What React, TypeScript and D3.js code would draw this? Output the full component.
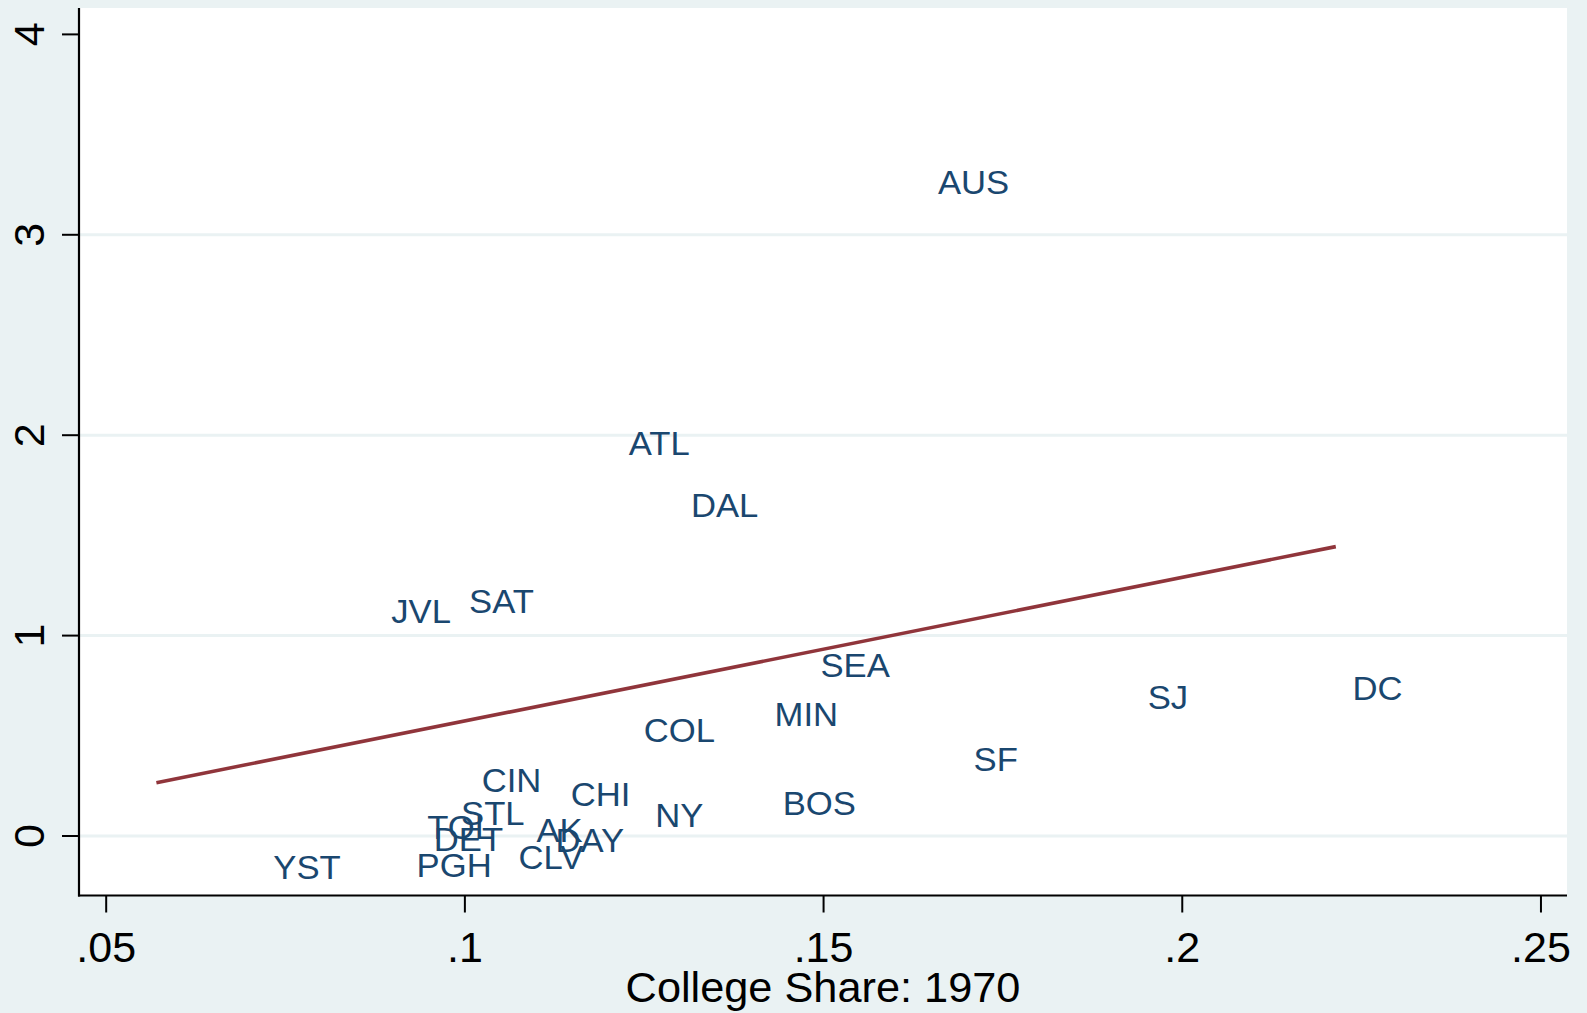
import React from "react";
import * as d3 from "d3";

const cities = ["AUS", "ATL", "DAL", "JVL", "SAT", "SEA", "SJ", "DC", "COL", "MIN", "SF", "NY", "BOS", "YST", "CIN", "CHI", "STL", "TOL", "DET", "AK", "DAY", "CLV", "PGH"];
const collegeShare = [0.1709, 0.1271, 0.1362, 0.0939, 0.1051, 0.1544, 0.1980, 0.2272, 0.1299, 0.1476, 0.1740, 0.1299, 0.1494, 0.0780, 0.1065, 0.1189, 0.1039, 0.0994, 0.1005, 0.1132, 0.1174, 0.1120, 0.0985];
const growth = [3.262, 1.960, 1.652, 1.121, 1.172, 0.853, 0.692, 0.737, 0.530, 0.606, 0.383, 0.106, 0.166, -0.157, 0.279, 0.211, 0.113, 0.046, -0.014, 0.029, -0.020, -0.104, -0.145];

const fitX = [0.0570, 0.2214];
const fitY = [0.266, 1.444];

const xTicks = [0.05, 0.1, 0.15, 0.2, 0.25];
const xTickLabels = [".05", ".1", ".15", ".2", ".25"];
const yTicks = [0, 1, 2, 3, 4];
const yGrid = [0, 1, 2, 3];
const xTitle = "College Share: 1970";

const W = 1587;
const H = 1013;
const plotLeft = 79;
const plotRight = 1567;
const plotTop = 8;
const plotBottom = 895.5;

const BG = "#EAF2F3";
const NAVY = "#1A476F";
const MAROON = "#90353B";
const FONT = "'Liberation Sans', Arial, sans-serif";

export default function App() {
  const x = d3.scaleLinear().domain([0.04621, 0.25363]).range([plotLeft, plotRight]);
  const y = d3.scaleLinear().domain([-0.2969, 4.1317]).range([plotBottom, plotTop]);
  const line = d3.line<[number, number]>().x((d) => x(d[0])).y((d) => y(d[1]));
  const fitPts: [number, number][] = fitX.map((v, i) => [v, fitY[i]]);
  const labelFs = 33;
  const tickFs = 43;

  return (
    <div style={{ position: "absolute", left: 0, top: 0, width: W, height: H }}>
      <svg width={W} height={H} style={{ display: "block" }} fontFamily={FONT}>
        <rect x={0} y={0} width={W} height={H} fill={BG} />
        <rect x={plotLeft} y={plotTop} width={plotRight - plotLeft} height={plotBottom - plotTop} fill="#ffffff" />
        {yGrid.map((t) => (
          <line key={"g" + t} x1={plotLeft} x2={plotRight} y1={y(t)} y2={y(t)} stroke={BG} strokeWidth={3} />
        ))}
        {cities.map((c, i) => (
          <text
            key={c}
            transform={`translate(${x(collegeShare[i])},${y(growth[i]) + labelFs * 0.358}) scale(1.05,1)`}
            fontSize={labelFs}
            fill={NAVY}
            textAnchor="middle"
          >
            {c}
          </text>
        ))}
        <path d={line(fitPts) || ""} fill="none" stroke={MAROON} strokeWidth={3.6} />
        <line x1={plotLeft} x2={plotLeft} y1={plotTop} y2={plotBottom + 1} stroke="#000" strokeWidth={2.2} />
        <line x1={plotLeft - 1} x2={plotRight} y1={plotBottom} y2={plotBottom} stroke="#000" strokeWidth={2.2} />
        {yTicks.map((t) => (
          <g key={"yt" + t}>
            <line x1={plotLeft - 17} x2={plotLeft} y1={y(t)} y2={y(t)} stroke="#000" strokeWidth={2} />
            <text
              transform={`translate(44,${y(t)}) rotate(-90)`}
              textAnchor="middle"
              fontSize={tickFs}
              fill="#000"
            >
              {t}
            </text>
          </g>
        ))}
        {xTicks.map((t, i) => (
          <g key={"xt" + t}>
            <line x1={x(t)} x2={x(t)} y1={plotBottom} y2={plotBottom + 17} stroke="#000" strokeWidth={2} />
            <text x={x(t)} y={961.5} textAnchor="middle" fontSize={tickFs} fill="#000">
              {xTickLabels[i]}
            </text>
          </g>
        ))}
        <text x={(plotLeft + plotRight) / 2} y={1002} textAnchor="middle" fontSize={43.3} fill="#000">
          {xTitle}
        </text>
      </svg>
    </div>
  );
}
